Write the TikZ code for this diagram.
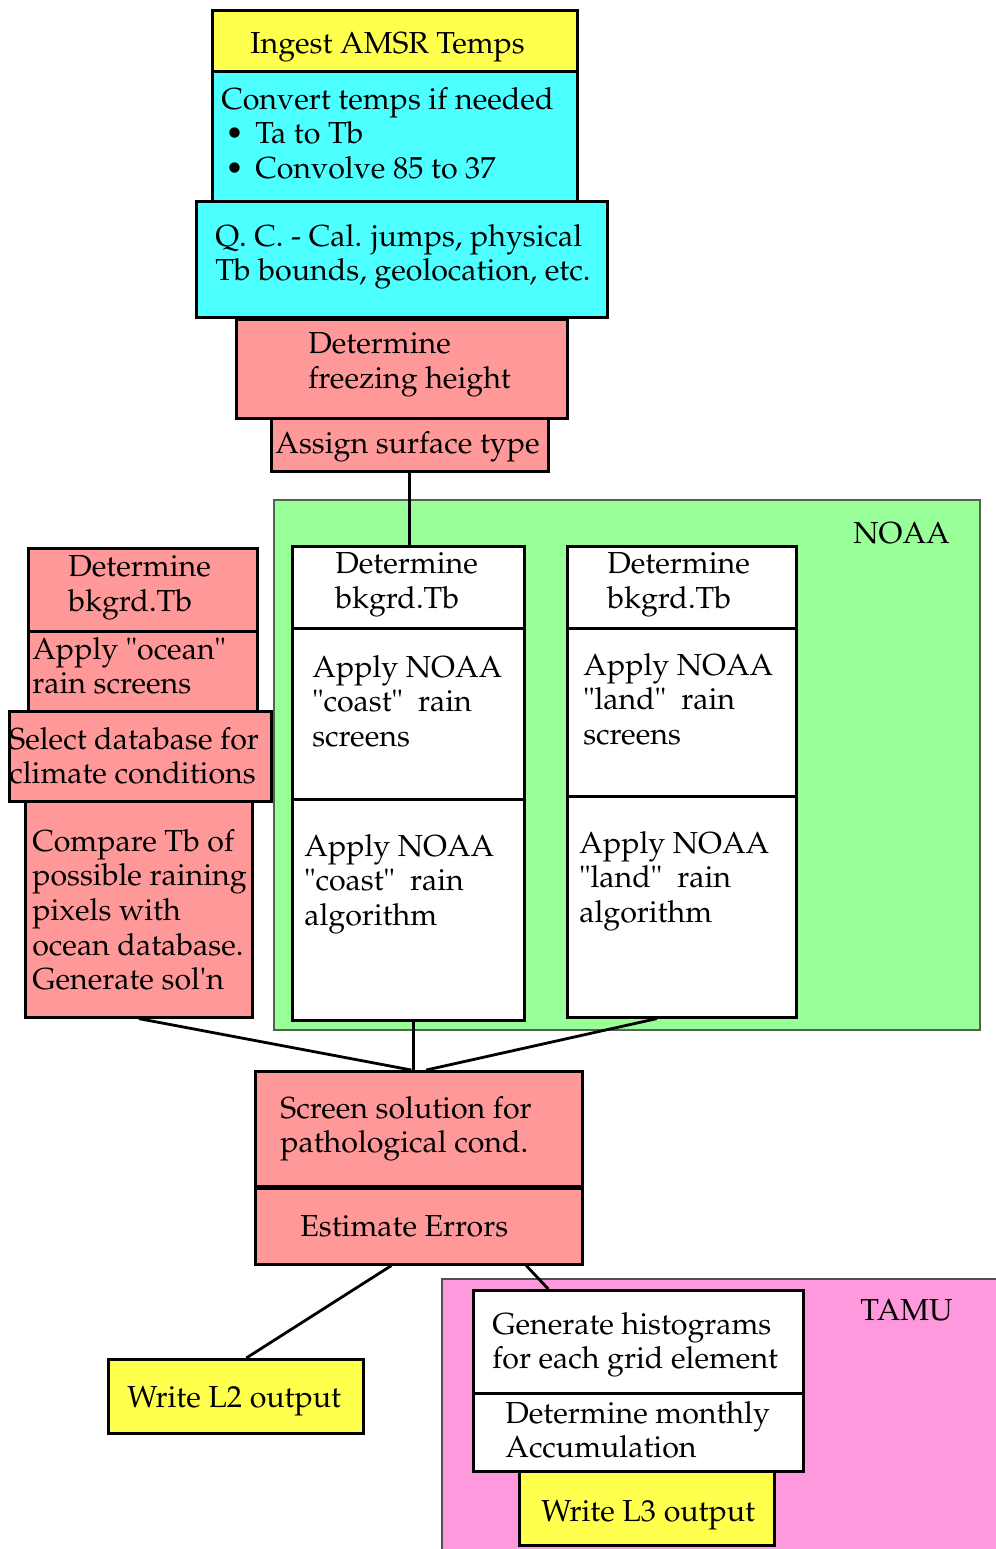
\documentclass[tikz,border=0pt]{standalone}
\usepackage[T1]{fontenc}
\usepackage{mathpazo}
\usepackage{xcolor}
\definecolor{amsryellow}{RGB}{255,255,77}
\definecolor{amsrcyan}{RGB}{77,255,255}
\definecolor{amsrpink}{RGB}{255,153,153}
\definecolor{noaagreen}{RGB}{153,255,153}
\definecolor{noaaborder}{RGB}{80,98,80}
\definecolor{tamupink}{RGB}{255,153,221}
\definecolor{tamuborder}{RGB}{80,80,80}
\newcommand{\amsrbullet}{\hspace{0.08cm}\makebox[0.6cm][l]{\textbullet}}

\begin{document}
\begin{tikzpicture}[x=0.02cm,y=-0.02cm]
% one unit is one pixel of the flow chart, y runs downwards
	\useasboundingbox (0,0) rectangle (995,1549);
	\tikzstyle{box}=[draw,line width=1.5pt,anchor=north west,inner sep=0pt]
	\tikzstyle{group}=[draw,line width=1.2pt,anchor=north west,inner sep=0pt]
	\tikzstyle{txt}=[anchor=north west,inner sep=0pt,yshift=-0.06cm,align=left,font=\fontsize{17.3}{19.7}\selectfont,execute at begin node=\strut]
	\tikzstyle{edge}=[draw,line width=1.6pt,-,black]

	% main column
	\node[box,fill=amsryellow,minimum width=7.3cm,minimum height=1.22cm] (ingest) at (211,9) {};
	\node[box,fill=amsrcyan,minimum width=7.3cm,minimum height=2.6cm] (convert) at (211,70) {};
	\node[box,fill=amsrcyan,minimum width=8.22cm,minimum height=2.32cm] (qc) at (195,200) {};
	\node[box,fill=amsrpink,minimum width=6.62cm,minimum height=1.98cm] (freeze) at (235,318) {};
	\node[box,fill=amsrpink,minimum width=5.54cm,minimum height=1.06cm] (surf) at (270,417) {};
	\node[txt] (ingestT) at (250,26) {Ingest AMSR Temps};
	\node[txt] (convertT) at (221,84) {Convert temps if needed\\\amsrbullet Ta to Tb\\\amsrbullet Convolve 85 to 37};
	\node[txt] (qcT) at (215,221) {Q. C. - Cal. jumps, physical\\Tb bounds, geolocation, etc.};
	\node[txt] (freezeT) at (308,329) {Determine\\freezing height};
	\node[txt] (surfT) at (275,426) {Assign surface type};

	% NOAA branch
	\node[group,draw=noaaborder,fill=noaagreen,minimum width=14.12cm,minimum height=10.6cm] (noaa) at (273,499) {};
	\node[box,fill=white,minimum width=4.64cm,minimum height=1.64cm] (coastbk) at (291,545) {};
	\node[box,fill=white,minimum width=4.64cm,minimum height=3.42cm] (coastscr) at (291,627) {};
	\node[box,fill=white,minimum width=4.64cm,minimum height=4.42cm] (coastalg) at (291,798) {};
	\node[box,fill=white,minimum width=4.58cm,minimum height=1.64cm] (landbk) at (566,545) {};
	\node[box,fill=white,minimum width=4.58cm,minimum height=3.36cm] (landscr) at (566,627) {};
	\node[box,fill=white,minimum width=4.58cm,minimum height=4.42cm] (landalg) at (566,795) {};
	\node[txt] (noaaT) at (853,516) {NOAA};
	\node[txt] (coastbkT) at (335,549) {Determine\\bkgrd.Tb};
	\node[txt] (coastscrT) at (312,652) {Apply NOAA\\"coast"\ \ rain\\screens};
	\node[txt] (coastalgT) at (304,831) {Apply NOAA\\"coast"\ \ rain\\algorithm};
	\node[txt] (landbkT) at (607,549) {Determine\\bkgrd.Tb};
	\node[txt] (landscrT) at (583,650) {Apply NOAA\\"land"\ \ rain\\screens};
	\node[txt] (landalgT) at (579,828) {Apply NOAA\\"land"\ \ rain\\algorithm};

	% ocean branch
	\node[box,fill=amsrpink,minimum width=4.58cm,minimum height=1.66cm] (oceanbk) at (27,547) {};
	\node[box,fill=amsrpink,minimum width=4.58cm,minimum height=1.6cm] (oceanscr) at (27,630) {};
	\node[box,fill=amsrpink,minimum width=4.54cm,minimum height=4.32cm] (compare) at (24,800) {};
	\node[box,fill=amsrpink,minimum width=5.24cm,minimum height=1.8cm] (seldb) at (8,710) {};
	\node[txt] (oceanbkT) at (68,552) {Determine\\bkgrd.Tb};
	\node[txt] (oceanscrT) at (32,634) {Apply "ocean"\\rain screens};
	\node[txt] (seldbT) at (9,724) {Select database for\\climate conditions};
	\node[txt] (compareT) at (32,826) {Compare Tb of\\possible raining\\pixels with\\ocean database.\\Generate sol\textquotesingle n};

	% screening and output
	\node[box,fill=amsrpink,minimum width=6.54cm,minimum height=2.3cm] (screen) at (254,1070) {};
	\node[box,fill=amsrpink,minimum width=6.54cm,minimum height=1.52cm] (errors) at (254,1187) {};
	\node[box,fill=amsryellow,minimum width=5.1cm,minimum height=1.48cm] (wl2) at (107,1358) {};
	\node[txt] (screenT) at (280,1093) {Screen solution for\\pathological cond.};
	\node[txt] (errorsT) at (300,1209) {Estimate Errors};
	\node[txt] (wl2T) at (127,1380) {Write L2 output};

	% TAMU branch
	\node[group,draw=tamuborder,fill=tamupink,minimum width=11.4cm,minimum height=5.8cm] (tamu) at (441,1278) {};
	\node[box,fill=white,minimum width=6.6cm,minimum height=2.06cm] (hist) at (472,1289) {};
	\node[box,fill=white,minimum width=6.6cm,minimum height=1.56cm] (monthly) at (472,1392) {};
	\node[box,fill=amsryellow,minimum width=5.1cm,minimum height=1.48cm] (wl3) at (518,1470) {};
	\node[txt] (tamuT) at (860,1293) {TAMU};
	\node[txt] (histT) at (492,1309) {Generate histograms\\for each grid element};
	\node[txt] (monthlyT) at (505,1398) {Determine monthly\\Accumulation};
	\node[txt] (wl3T) at (541,1494) {Write L3 output};

	\draw[edge] (surf.south) -- (surf.south |- coastbk.north);
	\draw[edge] (compare.south) -- ([xshift=-0.15cm]screen.north);
	\draw[edge] ([xshift=0.1cm]coastalg.south) -- ([xshift=0.1cm]coastalg.south |- screen.north);
	\draw[edge] ([xshift=-0.5cm]landalg.south) -- ([xshift=0.15cm]screen.north);
	\draw[edge] ([xshift=-0.55cm]errors.south) -- ([xshift=0.21cm]wl2.north);
	\draw[edge] ([xshift=2.15cm]errors.south) -- ([xshift=-1.8cm]hist.north);
\end{tikzpicture}
\end{document}
